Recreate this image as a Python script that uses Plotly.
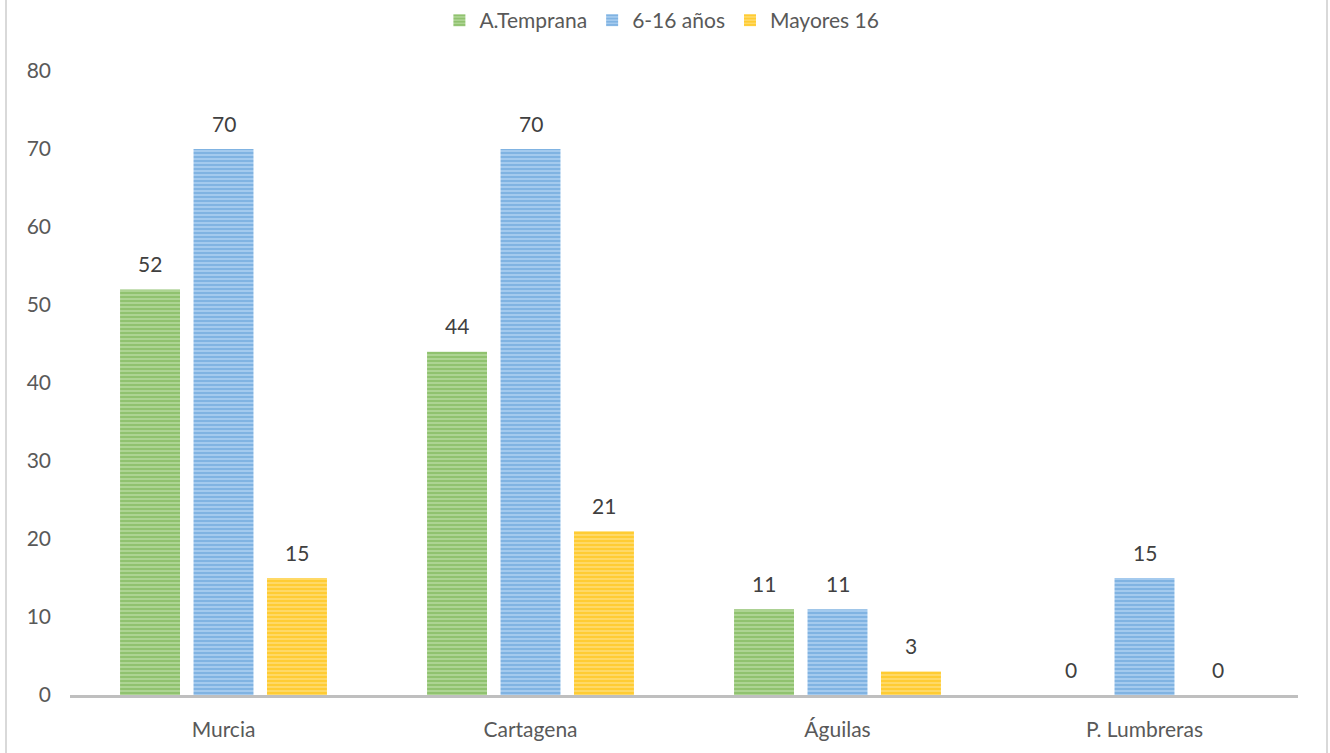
import plotly.graph_objects as go

categories = ["Murcia", "Cartagena", "Águilas", "P. Lumbreras"]
series_names = ["A.Temprana", "6-16 años", "Mayores 16"]
a_temprana = [52, 44, 11, 0]
edad_6_16 = [70, 70, 11, 15]
mayores_16 = [15, 21, 3, 0]
y_ticks = [0, 10, 20, 30, 40, 50, 60, 70, 80]

series_values = [a_temprana, edad_6_16, mayores_16]
fg_colors = ["#74B04C", "#5B9BD5", "#FFC000"]
bg_colors = ["#ADD493", "#A4CAEE", "#FFD966"]

FONT = "Lato"
TXT = "#595959"
FS = 21

fig = go.Figure()
for name, vals, fg, bg in zip(series_names, series_values, fg_colors, bg_colors):
    fig.add_trace(go.Bar(
        name=name, x=categories, y=vals,
        marker=dict(color=bg, line=dict(width=0),
                    pattern=dict(shape="-", fgcolor=fg, bgcolor=bg, size=4, solidity=0.5)),
    ))

slot_px = 73.5
for i, vals in enumerate(series_values):
    for c, v in zip(categories, vals):
        fig.add_annotation(x=c, y=v, text=str(v), showarrow=False,
                           xshift=(i - 1) * slot_px, yshift=26, yanchor="middle",
                           font=dict(family=FONT, size=FS, color="#404040"))

fig.update_layout(
    width=1330, height=753,
    margin=dict(l=70, r=32, t=71, b=58),
    paper_bgcolor="white", plot_bgcolor="white",
    barmode="group", bargap=0.282, bargroupgap=0.184,
    font=dict(family=FONT, size=FS, color=TXT),
    showlegend=True,
    legend=dict(orientation="h", x=0.482, xanchor="center", y=1.0, yref="container",
                yanchor="top", font=dict(family=FONT, size=FS, color=TXT),
                itemwidth=30, traceorder="normal"),
    xaxis=dict(showline=True, linecolor="#BFBFBF", linewidth=3, showgrid=False,
               ticks="", ticklabelstandoff=14, tickfont=dict(family=FONT, size=FS, color=TXT)),
    yaxis=dict(range=[0, 80], tickvals=y_ticks, showgrid=False, zeroline=False,
               showline=False, ticks="", ticklabelstandoff=18,
               tickfont=dict(family=FONT, size=FS, color=TXT)),
)

# outer chart frame (left/right borders)
for xp in [(6 - 70) / 1228, (1327 - 70) / 1228]:
    fig.add_shape(type="line", xref="paper", yref="paper", x0=xp, x1=xp,
                  y0=-58 / 624, y1=1 + 71 / 624, line=dict(color="#D9D9D9", width=2))

fig.write_html("out.html", config={"displayModeBar": False},
               post_script="document.body.style.margin='0';document.body.style.overflow='hidden';")
